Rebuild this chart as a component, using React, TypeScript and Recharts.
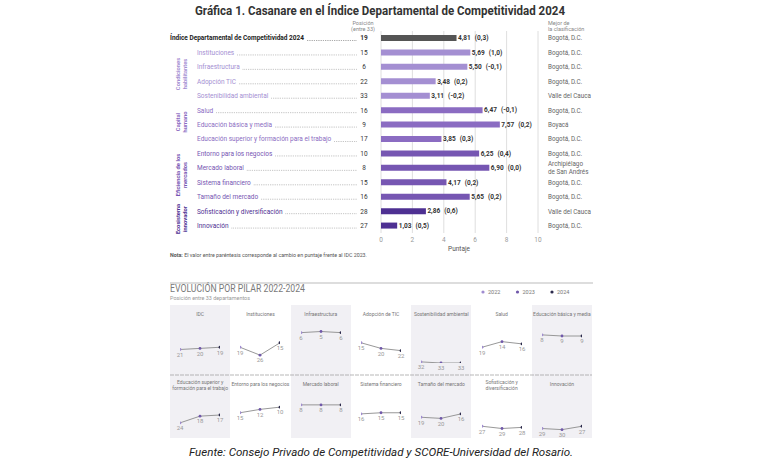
import React from "react";
import {
  BarChart,
  Bar,
  XAxis,
  YAxis,
  CartesianGrid,
  Cell,
  LabelList,
  LineChart,
  Line,
} from "recharts";

// --- datos de la gráfica principal (puntaje 0-10) ---
const pilares = [
  "Índice Departamental de Competitividad 2024",
  "Instituciones",
  "Infraestructura",
  "Adopción TIC",
  "Sostenibilidad ambiental",
  "Salud",
  "Educación básica y media",
  "Educación superior y formación para el trabajo",
  "Entorno para los negocios",
  "Mercado laboral",
  "Sistema financiero",
  "Tamaño del mercado",
  "Sofisticación y diversificación",
  "Innovación",
];
const puntaje = [4.81, 5.69, 5.5, 3.48, 3.11, 6.47, 7.57, 3.85, 6.25, 6.9, 4.17, 5.65, 2.86, 1.03];
const cambio = ["0,3", "1,0", "-0,1", "0,2", "-0,2", "-0,1", "0,2", "0,3", "0,4", "0,0", "0,2", "0,2", "0,6", "0,5"];
const posicion = [19, 15, 6, 22, 33, 16, 9, 17, 10, 8, 15, 16, 28, 27];
const grupo = ["idc", "cond", "cond", "cond", "cond", "cap", "cap", "cap", "efi", "efi", "efi", "efi", "eco", "eco"];
const mejor = [
  "Bogotá, D.C.",
  "Bogotá, D.C.",
  "Bogotá, D.C.",
  "Bogotá, D.C.",
  "Valle del Cauca",
  "Bogotá, D.C.",
  "Boyacá",
  "Bogotá, D.C.",
  "Bogotá, D.C.",
  "Archipiélago de San Andrés",
  "Bogotá, D.C.",
  "Bogotá, D.C.",
  "Valle del Cauca",
  "Bogotá, D.C.",
];
const ticksPuntaje = [0, 2, 4, 6, 8, 10];

// --- evolución por pilar (posición entre 33) ---
const titulosPanel = [
  ["IDC"],
  ["Instituciones"],
  ["Infraestructura"],
  ["Adopción de TIC"],
  ["Sostenibilidad ambiental"],
  ["Salud"],
  ["Educación básica y media"],
  ["Educación superior y", "formación para el trabajo"],
  ["Entorno para los negocios"],
  ["Mercado laboral"],
  ["Sistema financiero"],
  ["Tamaño del mercado"],
  ["Sofisticación y", "diversificación"],
  ["Innovación"],
];
const pos2022 = [21, 19, 6, 15, 32, 19, 8, 24, 15, 8, 16, 19, 27, 29];
const pos2023 = [20, 26, 5, 20, 33, 14, 9, 18, 12, 8, 15, 20, 29, 30];
const pos2024 = [19, 15, 6, 22, 33, 16, 9, 17, 10, 8, 15, 16, 28, 27];
const anios = [2022, 2023, 2024];

const FONT = "Roboto, 'Noto Sans', sans-serif";
const COLORES: Record<string, string> = {
  idc: "#555555",
  cond: "#a48fd2",
  cap: "#8b6cc2",
  efi: "#7656b2",
  eco: "#4e3092",
};
const COLOR_ANIO = ["#a08cd0", "#7058aa", "#2c2a4c"];

const datosBarras = pilares.map((p, i) => ({ name: p, value: puntaje[i] }));

let ctx: CanvasRenderingContext2D | null = null;
const medir = (t: string, font: string) => {
  if (!ctx) ctx = document.createElement("canvas").getContext("2d");
  if (!ctx) return t.length * 3;
  ctx.font = font;
  return ctx.measureText(t).width;
};

const fmt = (v: number) => v.toFixed(2).replace(".", ",");

const TickIzq = (props: any) => {
  const { y, payload } = props;
  const i = pilares.indexOf(payload.value);
  const esIdc = i === 0;
  const x0 = esIdc ? 170 : 197;
  const fs = 6.5;
  const w = medir(pilares[i], `${esIdc ? "bold " : ""}${fs}px Roboto`);
  return (
    <g>
      <text
        x={x0}
        y={y}
        dy="0.35em"
        fontSize={fs}
        fontWeight={esIdc ? 700 : 400}
        fill={esIdc ? "#222" : COLORES[grupo[i]]}
        fontFamily={FONT}
      >
        {pilares[i]}
      </text>
      <line
        x1={x0 + w + 3}
        x2={357}
        y1={y + 2.3}
        y2={y + 2.3}
        stroke={esIdc ? "#333" : "#777"}
        strokeWidth={0.6}
        strokeDasharray="0.7 1.1"
      />
      <text
        x={364}
        y={y}
        dy="0.35em"
        textAnchor="middle"
        fontSize={fs}
        fontWeight={esIdc ? 700 : 400}
        fill="#333"
        fontFamily={FONT}
      >
        {posicion[i]}
      </text>
    </g>
  );
};

const TickDer = (props: any) => {
  const { y, payload } = props;
  const i = pilares.indexOf(payload.value);
  const txt = mejor[i];
  const lineas = txt.length > 16 ? [txt.split(" ")[0], txt.split(" ").slice(1).join(" ")] : [txt];
  return (
    <text x={548} y={y} fontSize={6.3} fill="#666" fontFamily={FONT}>
      {lineas.map((l, k) => (
        <tspan key={k} x={548} dy={k === 0 ? (lineas.length > 1 ? "-0.25em" : "0.35em") : "1.2em"}>
          {l}
        </tspan>
      ))}
    </text>
  );
};

const TickX = (props: any) => {
  const { x, y, payload } = props;
  return (
    <text x={x} y={y} dy="0.7em" textAnchor="middle" fontSize={6.5} fill="#999" fontFamily={FONT}>
      {payload.value}
    </text>
  );
};

const EtiquetaValor = (props: any) => {
  const { x, y, width, height, index, value } = props;
  return (
    <text
      x={x + width + 1.5}
      y={y + height / 2}
      dy="0.35em"
      fontSize={6.5}
      fontWeight={700}
      fill="#333"
      fontFamily={FONT}
    >
      <tspan>{fmt(value)}</tspan>
      <tspan dx={4}>({cambio[index]})</tspan>
    </text>
  );
};

const Panel = ({ i }: { i: number }) => {
  const serie = [pos2022, pos2023, pos2024];
  const datos = anios.map((a, k) => ({ anio: a, pos: serie[k][i] }));
  const fila = i < 7 ? 0 : 1;
  const col = i % 7;
  const left = 170 + col * 60.3;
  const top = fila === 0 ? 305 : 375;
  const h = fila === 0 ? 70 : 63;
  const titulo = titulosPanel[i];
  return (
    <div
      style={{
        position: "absolute",
        left,
        top,
        width: 60.3,
        height: h,
        background: col % 2 === 0 ? "#f1f0f4" : "transparent",
      }}
    >
      <div
        style={{
          position: "absolute",
          top: titulo.length > 1 ? 4 : 6,
          left: -4,
          width: 68.3,
          textAlign: "center",
          fontSize: 5,
          lineHeight: "6px",
          color: "#777",
          whiteSpace: "nowrap",
          fontFamily: FONT,
        }}
      >
        {titulo.map((t, k) => (
          <div key={k}>{t}</div>
        ))}
      </div>
      <div style={{ position: "absolute", left: 0, top: 0 }}>
        <LineChart width={60} height={66} data={datos} margin={{ top: 22, right: 10, bottom: 8, left: 10 }}>
          <XAxis dataKey="anio" type="number" domain={[2022, 2024]} allowDataOverflow hide />
          <YAxis type="number" domain={[1, 33]} allowDataOverflow reversed hide />
          <Line
            dataKey="pos"
            stroke="#8c8c8c"
            strokeWidth={0.9}
            isAnimationActive={false}
            dot={(p: any) => (
              <circle key={`d${p.index}`} cx={p.cx} cy={p.cy} r={1.4} fill={COLOR_ANIO[p.index]} />
            )}
          >
            <LabelList dataKey="pos" position="bottom" offset={3} fontSize={6} fill="#999" fontFamily={FONT} />
          </Line>
        </LineChart>
      </div>
    </div>
  );
};

const gruposTexto = [
  { lineas: ["Condiciones", "habilitantes"], y: 74, color: COLORES.cond },
  { lineas: ["Capital", "humano"], y: 122, color: COLORES.cap },
  { lineas: ["Eficiencia de los", "mercados"], y: 175, color: COLORES.efi },
  { lineas: ["Ecosistema", "innovador"], y: 219, color: COLORES.eco },
];

export default function App() {
  return (
    <div
      style={{
        position: "fixed",
        left: 0,
        top: 0,
        width: 758,
        height: 467,
        background: "#fff",
        overflow: "hidden",
        fontFamily: FONT,
      }}
    >
      <div style={{ position: "absolute", left: 0, top: 0 }}>
        <BarChart
          width={758}
          height={262}
          data={datosBarras}
          layout="vertical"
          margin={{ top: 31, right: 0, bottom: 0, left: 0 }}
          barCategoryGap={0}
        >
          <CartesianGrid horizontal={false} stroke="#d6d6d6" strokeWidth={0.8} />
          <XAxis
            type="number"
            domain={[0, 10]}
            ticks={ticksPuntaje}
            allowDataOverflow
            height={29}
            axisLine={false}
            tickLine={false}
            tickSize={0}
            tickMargin={4}
            tick={<TickX />}
          />
          <YAxis
            yAxisId="izq"
            type="category"
            dataKey="name"
            width={381}
            axisLine={false}
            tickLine={false}
            tick={<TickIzq />}
            interval={0}
          />
          <YAxis
            yAxisId="der"
            orientation="right"
            type="category"
            dataKey="name"
            width={220}
            axisLine={false}
            tickLine={false}
            tick={<TickDer />}
            interval={0}
          />
          <Bar yAxisId="izq" dataKey="value" barSize={6} isAnimationActive={false}>
            {datosBarras.map((d, i) => (
              <Cell key={d.name} fill={COLORES[grupo[i]]} />
            ))}
            <LabelList dataKey="value" content={<EtiquetaValor />} />
          </Bar>
        </BarChart>
      </div>

      {pilares.map((_, i) => (
        <Panel key={i} i={i} />
      ))}

      <svg
        width={758}
        height={467}
        style={{ position: "absolute", left: 0, top: 0, pointerEvents: "none" }}
        fontFamily={FONT}
      >
        <text x={195} y={14.5} fontSize={13} fontWeight={700} fill="#333" textLength={370} lengthAdjust="spacingAndGlyphs">
          Gráfica 1. Casanare en el Índice Departamental de Competitividad 2024
        </text>
        <text x={363} y={24.5} fontSize={5.5} fill="#888" textAnchor="middle">
          Posición
        </text>
        <text x={363} y={31} fontSize={5.5} fill="#888" textAnchor="middle">
          (entre 33)
        </text>
        <text x={548} y={24.5} fontSize={5.5} fill="#888">
          Mejor de
        </text>
        <text x={548} y={31} fontSize={5.5} fill="#888">
          la clasificación
        </text>
        {gruposTexto.map((g) => (
          <g key={g.lineas[0]} transform={`translate(181.5, ${g.y}) rotate(-90)`}>
            {g.lineas.map((l, k) => (
              <text
                key={l}
                x={0}
                y={(k - (g.lineas.length - 1) / 2) * 6.5}
                dy="0.35em"
                textAnchor="middle"
                fontSize={5.8}
                fontWeight={700}
                fill={g.color}
              >
                {l}
              </text>
            ))}
          </g>
        ))}
        <text x={459} y={251} fontSize={6.5} fill="#555" textAnchor="middle">
          Puntaje
        </text>
        <text x={170} y={257} fontSize={5} fill="#555" textLength={197} lengthAdjust="spacingAndGlyphs">
          <tspan fontWeight={700}>Nota:</tspan> El valor entre paréntesis corresponde al cambio en puntaje frente al IDC 2023.
        </text>
        <line x1={170} x2={593} y1={283} y2={283} stroke="#aaa" strokeWidth={0.8} />
        <text x={170} y={292} fontSize={10.5} fill="#7a7a7a" textLength={135} lengthAdjust="spacingAndGlyphs">
          EVOLUCIÓN POR PILAR 2022-2024
        </text>
        <text x={170} y={300} fontSize={5} fill="#999" textLength={80} lengthAdjust="spacingAndGlyphs">
          Posición entre 33 departamentos
        </text>
        {anios.map((a, k) => (
          <g key={a}>
            <circle cx={483 + k * 34.5} cy={292} r={1.6} fill={COLOR_ANIO[k]} />
            <text x={488 + k * 34.5} y={294} fontSize={5.5} fill="#777">
              {a}
            </text>
          </g>
        ))}
        <line x1={170} x2={592} y1={375} y2={375} stroke="#999" strokeWidth={0.7} strokeDasharray="4 1" />
        <text
          x={189}
          y={456}
          fontSize={11}
          fontStyle="italic"
          fill="#222"
          textLength={384}
          lengthAdjust="spacingAndGlyphs"
        >
          Fuente: Consejo Privado de Competitividad y SCORE-Universidad del Rosario.
        </text>
      </svg>
    </div>
  );
}
